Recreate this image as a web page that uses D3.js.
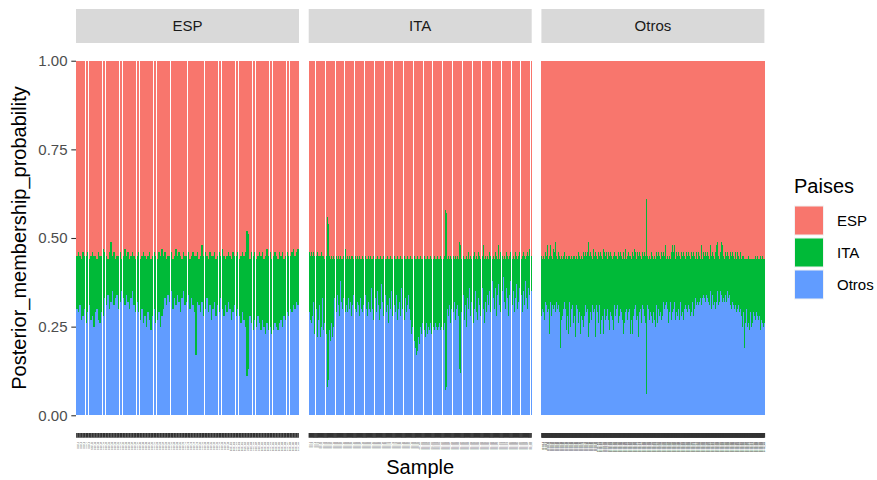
<!DOCTYPE html>
<html>
<head>
<meta charset="utf-8">
<script src="https://cdn.jsdelivr.net/npm/d3@7"></script>
<style>
  body { margin: 0; background: #fff; }
  svg { display: block; font-family: "Liberation Sans", Arial, sans-serif; }
</style>
</head>
<body>
<svg id="chart" width="877" height="480"></svg>
<script>
const paises = ["ESP", "ITA", "Otros"];
const colores = { ESP: "#F8766D", ITA: "#00BA38", Otros: "#619CFF" };
const yTicks = [0, 0.25, 0.5, 0.75, 1];

// membership (%) per sample; ITA is what is left to 100
const espPctESP = [
  55,54,55,56,54,55,55,54,56,55,54,55, 55,56,54,55,55,53,54,55,56,54,51,55,
  54,56,55,55,54,56,55,53,55,54,56,55, 54,55,56,55,54,56,55,54,55,56,55,54,
  56,55,54,55,56,54,55,53,55,54,56,55, 55,54,56,55,53,55,54,55,56,54,55,55,
  54,56,55,54,55,55,54,56,55,52,55,54, 55,56,54,55,55,54,56,55,54,55,53,55,
  56,55,54,55,56,54,55,55,54,56,55,54, 55,54,48,49,56,54,55,54,56,55,54,55,
  54,56,55,53,55,54,56,55,54,55,56,54, 55,54,56,55,54,55,55,54,53,55,54,53
];
const otrosPctESP = [
  30,29,31,27,28,30,26,29,31,27,28,25, 29,30,27,26,29,28,33,31,34,30,32,35,
  31,33,34,30,32,35,33,31,34,32,30,33, 35,31,29,32,29,27,30,26,28,25,29,27,
  24,28,30,26,27,29,25,28,30,33,31,34, 32,35,30,33,31,34,32,29,33,35,31,32,
  34,30,33,31,29,17,32,31,29,32,28,30, 33,29,31,27,30,32,28,31,29,33,30,28,
  31,29,32,30,27,29,31,28,30,28,26,29, 27,25,11,13,28,26,24,27,25,28,26,24,
  27,25,23,26,24,25,23,24,26,25,24,26, 27,25,28,27,29,28,30,29,31,30,32,31
];

const espPctITA = [
  54,55,54,55,54,55,55,54,55,55, 55,54,55,55,56,55,44,46,55,56,
  55,56,55,56,55,56,55,56,55,56, 56,55,53,56,55,56,55,56,55,55,
  56,55,56,55,56,55,56,56,55,56, 55,56,56,55,56,55,56,56,55,56,
  56,55,56,56,55,56,56,55,56,56, 55,56,56,55,56,56,55,56,56,55,
  56,56,55,56,56,55,56,56,55,56, 56,55,56,56,55,56,56,55,56,56,
  55,56,56,55,56,56,55,56,56,55, 56,56,55,56,56,55,56,56,55,56,
  56,55,42,43,56,55,56,55,56,55, 56,55,56,55,56,51,52,56,55,56,
  56,55,56,54,56,55,56,55,54,56, 55,56,54,55,56,55,52,56,55,56,
  55,56,54,55,56,55,56,54,55,56, 52,56,54,55,56,55,56,54,55,56,
  55,54,56,55,56,54,55,56,55,54, 56,55,54,55,56,55,54,55,53,55
];
const otrosPctITA = [
  29,27,26,28,32,23,30,22,27,31, 22,25,33,24,26,23,8,10,24,21,
  26,22,25,33,29,34,31,28,38,32, 30,33,29,31,29,33,30,32,28,31,
  34,30,29,32,31,28,33,30,29,31, 34,30,28,32,30,29,36,30,27,33,
  29,35,31,27,30,37,32,28,34,29, 31,26,33,30,35,28,31,29,34,27,
  30,32,28,36,30,27,33,29,31,34, 30,27,23,25,21,19,17,18,22,20,
  25,23,26,24,22,26,23,25,24,26, 23,25,24,26,25,24,25,26,24,25,
  24,26,7,8,30,28,31,26,30,29, 32,27,30,31,28,13,12,29,34,27,
  31,25,33,30,36,28,32,26,30,35, 29,27,33,31,28,36,30,26,32,29,
  34,31,35,29,38,33,30,36,28,34, 37,31,29,35,39,32,30,36,33,28,
  34,38,31,35,29,33,37,30,32,36, 34,29,35,31,38,33,30,36,34,35
];

const espPctOtros = [
  55,56,54,55,53,56,55,54,56,55,52,55,56,54,55,51,52,55,54,56,
  55,53,56,54,52,51,55,54,56,55,54,56,55,54,56,55,53,56,54,55,
  56,54,55,56,55,53,56,54,55,56,55,54,56,55,53,56,54,55,56,55,
  54,56,55,53,56,55,54,56,55,54,56,55,53,56,55,54,56,55,54,56,
  55,56,54,52,51,53,55,54,56,55,54,56,55,53,56,55,54,56,55,54,
  56,55,54,56,55,54,56,55,54,56,55,53,56,54,55,56,54,55,56,55,
  54,56,55,54,56,55,53,56,54,55,56,54,55,56,55,54,56,55,54,56,
  55,54,56,55,54,56,55,54,56,55,53,55,56,54,55,56,54,55,56,55,
  54,56,55,54,56,55,53,56,54,55,56,55,54,56,55,54,56,55,54,56,
  55,54,56,55,54,56,55,54,39,40,55,54,56,55,54,56,55,54,56,55,
  54,56,55,54,56,55,54,56,55,54,56,55,54,56,55,54,56,55,54,56,
  55,54,52,55,56,54,55,56,53,55,54,56,55,54,51,52,54,56,52,51,
  56,55,54,56,55,54,56,55,54,56,55,54,56,55,54,56,55,54,56,55,
  54,56,55,54,56,55,54,56,55,54,56,55,54,56,55,54,56,55,54,56,
  55,54,56,55,54,56,55,52,56,55,54,56,55,53,54,56,55,54,56,55,
  54,56,55,52,56,55,54,56,55,54,56,55,54,56,52,51,56,55,54,56,
  55,54,56,51,52,56,55,54,56,55,54,56,55,54,56,55,54,56,55,54,
  56,55,54,56,55,54,56,55,54,56,55,54,56,55,54,56,55,54,56,55,
  55,56,55,56,56,55,56,56,55,56,56,55,56,56,55,56,56,55,56,56,
  56,55,56,56,55,56,56,55,56,56,55,56,56,55,56,56,55,56,56,56
];
const otrosPctOtros = [
  28,30,32,29,31,27,30,32,28,31,29,33,30,24,23,29,32,28,30,31,
  27,30,25,31,28,29,32,26,30,28,31,24,29,18,19,27,31,28,25,30,
  29,32,27,30,24,31,28,22,23,29,32,28,25,30,27,31,29,26,30,28,
  21,22,31,27,30,28,26,31,29,22,23,28,32,27,29,25,30,28,31,26,
  29,27,30,21,22,31,26,29,30,27,25,31,28,29,26,30,22,23,31,27,
  29,30,26,28,31,23,29,27,30,28,22,23,29,30,27,31,28,25,30,29,
  27,31,24,29,30,28,32,27,23,24,29,31,28,23,30,27,31,29,26,30,
  28,30,25,29,31,27,22,23,26,31,29,24,30,28,27,31,29,30,22,23,
  30,27,31,23,29,28,30,26,31,29,27,30,28,21,22,29,27,30,28,26,
  29,31,27,30,28,29,26,30,6,7,31,28,30,27,32,29,31,28,30,26,
  31,29,27,24,25,28,31,29,26,30,32,28,31,29,30,27,31,28,32,29,
  30,27,31,29,32,28,30,26,31,29,28,32,30,27,31,29,30,28,32,30,
  27,31,29,32,28,30,31,27,29,32,30,28,31,29,27,32,30,29,31,28,
  30,32,29,31,27,30,32,28,31,29,30,32,28,31,30,29,33,30,31,32,
  33,31,34,32,30,33,35,31,33,32,34,30,33,35,32,31,34,33,30,32,
  34,31,33,35,32,30,34,33,31,35,32,33,30,34,32,35,33,31,34,32,
  33,35,31,34,32,30,33,35,32,31,34,33,32,35,31,33,30,34,32,31,
  33,30,32,29,31,28,30,27,31,29,26,30,28,31,27,29,26,30,28,27,
  25,21,29,27,19,28,26,30,27,25,29,26,28,24,27,29,25,28,26,27,
  29,26,28,25,27,29,26,28,24,27,25,28,26,24,27,25,26,24,25,26
];

const facets = [
  { pais: "ESP", esp: espPctESP, otros: otrosPctESP },
  { pais: "ITA", esp: espPctITA, otros: otrosPctITA },
  { pais: "Otros", esp: espPctOtros, otros: otrosPctOtros }
];

const svg = d3.select("#chart");
const panel = { left: 76, top: 43, bottom: 433, width: 223, gap: 9.7 };
const stripTop = 9;
const tickLen = 4.7;

const y = d3.scaleLinear().domain([-0.05, 1.05]).range([panel.bottom, panel.top]);
const stack = d3.stack().keys(["Otros", "ITA", "ESP"]);

facets.forEach((f, fi) => {
  const n = Math.min(f.esp.length, f.otros.length);
  const rows = d3.range(n).map(i => ({
    Sample: f.pais + "_" + (i + 1),
    ESP: f.esp[i] / 100,
    ITA: (100 - f.esp[i] - f.otros[i]) / 100,
    Otros: f.otros[i] / 100
  }));

  const x0 = panel.left + fi * (panel.width + panel.gap);
  const x = d3.scaleBand()
    .domain(rows.map(d => d.Sample))
    .range([x0, x0 + panel.width])
    .paddingInner(0.1)
    .paddingOuter(0.15);
  const bw = Math.max(x.bandwidth(), 1);

  // strip
  svg.append("rect")
    .attr("x", x0).attr("y", stripTop)
    .attr("width", panel.width).attr("height", panel.top - stripTop)
    .attr("fill", "#d9d9d9");
  svg.append("text")
    .attr("x", x0 + panel.width / 2).attr("y", (stripTop + panel.top) / 2)
    .attr("dy", "0.36em")
    .attr("text-anchor", "middle")
    .attr("font-size", 15)
    .attr("fill", "#1a1a1a")
    .text(f.pais);

  // stacked bars, drawn sample after sample (thin bars overlap in the last panel)
  const segs = d3.merge(stack(rows).map(s => s.map((d, i) => ({
    key: s.key, i, sample: d.data.Sample, y0: d[0], y1: d[1]
  }))));
  segs.sort((a, b) => a.i - b.i);

  svg.append("g")
    .attr("shape-rendering", "crispEdges")
    .selectAll("rect")
    .data(segs)
    .join("rect")
    .attr("x", d => x(d.sample))
    .attr("y", d => y(d.y1))
    .attr("width", bw)
    .attr("height", d => y(d.y0) - y(d.y1))
    .attr("fill", d => colores[d.key]);

  // x axis: one tick per sample, tiny rotated labels
  const xAxis = svg.append("g")
    .attr("transform", `translate(0, ${panel.bottom})`)
    .call(d3.axisBottom(x).tickSize(tickLen));
  xAxis.select(".domain").remove();
  xAxis.selectAll(".tick line").attr("stroke", "#333333").attr("stroke-width", 1.6);
  xAxis.selectAll(".tick text")
    .attr("transform", "rotate(-90)")
    .attr("x", -(tickLen + 4))
    .attr("y", 0)
    .attr("dy", "0.35em")
    .attr("text-anchor", "end")
    .attr("font-size", 2.2)
    .attr("fill", "#4d4d4d");
});

// y axis
const yAxis = svg.append("g")
  .attr("transform", `translate(${panel.left}, 0)`)
  .call(d3.axisLeft(y).tickValues(yTicks).tickFormat(d3.format(".2f")).tickSize(tickLen).tickPadding(3.8));
yAxis.select(".domain").remove();
yAxis.selectAll(".tick line").attr("stroke", "#333333").attr("stroke-width", 1.1);
yAxis.selectAll(".tick text")
  .attr("font-size", 15)
  .attr("font-family", "'Liberation Sans', Arial, sans-serif")
  .attr("fill", "#4d4d4d");

// axis titles
svg.append("text")
  .attr("transform", `translate(26, ${(panel.top + panel.bottom) / 2}) rotate(-90)`)
  .attr("text-anchor", "middle")
  .attr("font-size", 20)
  .attr("fill", "#000")
  .text("Posterior_membership_probability");

svg.append("text")
  .attr("x", panel.left + (3 * panel.width + 2 * panel.gap) / 2)
  .attr("y", 474)
  .attr("text-anchor", "middle")
  .attr("font-size", 20)
  .attr("fill", "#000")
  .text("Sample");

// legend
const legend = svg.append("g").attr("transform", "translate(794, 0)");
legend.append("text")
  .attr("x", 0).attr("y", 193)
  .attr("font-size", 20)
  .attr("fill", "#000")
  .text("Paises");

const keys = legend.selectAll(".key")
  .data(paises)
  .join("g")
  .attr("class", "key")
  .attr("transform", (d, i) => `translate(0, ${205.5 + i * 32})`);
keys.append("rect")
  .attr("width", 30).attr("height", 30)
  .attr("fill", "#f2f2f2");
keys.append("rect")
  .attr("x", 1).attr("y", 1)
  .attr("width", 28).attr("height", 28)
  .attr("fill", d => colores[d]);
keys.append("text")
  .attr("x", 43).attr("y", 15)
  .attr("dy", "0.36em")
  .attr("font-size", 15)
  .attr("fill", "#000")
  .text(d => d);
</script>
</body>
</html>
